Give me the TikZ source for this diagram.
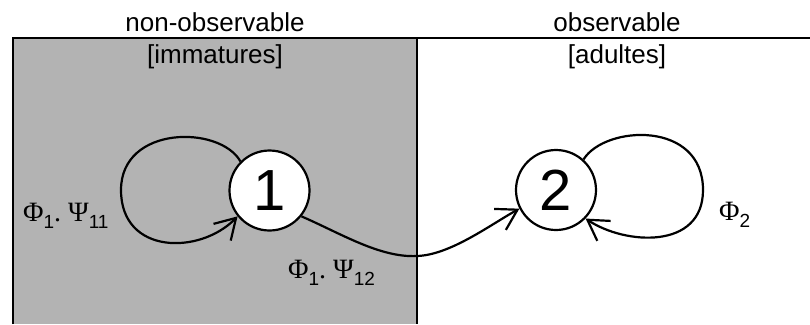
\documentclass[tikz,border=0pt]{standalone}
\usepackage{fontspec}
\setmainfont{Liberation Sans}
\newfontfamily\grkfont{Liberation Serif}
\usetikzlibrary{arrows.meta}
\definecolor{boxgray}{RGB}{179,179,179}
\newcommand\lsubx[1]{\raisebox{-7pt}{\fontsize{19}{19}\selectfont #1}}
\newcommand\gkx[1]{{\grkfont\fontsize{28}{28}\selectfont #1}}
\begin{document}
\begin{tikzpicture}[x=1pt,y=-1pt,
  line width=2.2pt,
  state/.style={circle, draw, fill=white, minimum size=80pt, inner sep=0pt, line width=2.2pt, font=\fontsize{58}{58}\selectfont},
  arr/.style={line width=2.2pt, -{Straight Barb[length=20pt,width=24pt]}},
  hdr/.style={font=\fontsize{26}{28}\selectfont, anchor=base, inner sep=0pt},
  lbl/.style={anchor=base west, inner sep=0pt}]
\useasboundingbox (0,0) rectangle (810,324);
% regions
\fill[boxgray] (13,38) rectangle (417,324);
\draw (13,324) -- (13,38) -- (810,38);
\draw (417,38) -- (417,324);
% headers
\node[hdr] (h1) at (215,31) {non-observable};
\node[hdr] (h2) at (215,63) {[immatures]};
\node[hdr] (h3) at (617,31) {observable};
\node[hdr] (h4) at (617,63) {[adultes]};
% states
\node[state] (n1) at (269.5,190.5) {1};
\node[state] (n2) at (556,190) {2};
% connectors
\draw[arr] (n1.135) .. controls (220,125) and (121,125) .. (121,190)
  .. controls (121,255) and (200,255) .. (n1.219);
\draw[arr] (n1.-39) .. controls (340,233) and (380,258) .. (417,256)
  .. controls (450,255) and (490,225) .. (n2.207);
\draw[arr] (n2.48) .. controls (605,125) and (703,120) .. (703,190)
  .. controls (703,250) and (625,245) .. (n2.-44);
% labels
\node[lbl] (l1) at (22,221) {\gkx{Φ}\lsubx{1}\gkx{.}\hspace{7pt}\gkx{Ψ}\lsubx{11}};
\node[lbl] (l2) at (287,278) {\gkx{Φ}\lsubx{1}\gkx{.}\hspace{7pt}\gkx{Ψ}\lsubx{12}};
\node[lbl] (l3) at (718,220) {\gkx{Φ}\lsubx{2}};
\end{tikzpicture}
\end{document}
